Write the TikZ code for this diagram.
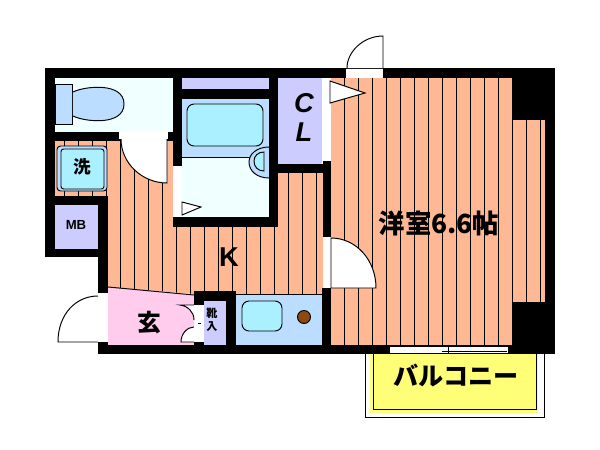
\documentclass[tikz,border=0pt]{standalone}
\usepackage{fontspec}
\newfontfamily\cjk{Noto Sans CJK JP}
\setsansfont{Liberation Sans}
\definecolor{piso}{HTML}{FFB894}
\definecolor{rosa}{HTML}{FFCCEE}
\definecolor{lila}{HTML}{CCCCFF}
\definecolor{celeste}{HTML}{BBDDFF}
\definecolor{agua}{HTML}{AAF0FF}
\definecolor{blanco}{HTML}{F0FFFF}
\definecolor{amarillo}{HTML}{FFFF77}
\definecolor{cafe}{HTML}{8B4A10}
\tikzset{
	linea/.style={draw=black,line width=0.55pt},
	muro/.style={fill=black},
	hueco/.style={fill=white},
	hoja/.style={linea,fill=white},
	rotulo/.style={inner sep=0pt,text=black,font=\cjk\bfseries\fontsize{15}{16}\selectfont},
	latino/.style={inner sep=0pt,text=black,font=\sffamily\bfseries\fontsize{15.5}{16}\selectfont}
}
\begin{document}
\begin{tikzpicture}[x=0.02cm,y=-0.02cm]
\useasboundingbox (0,0) rectangle (600,450);

% Balcon
	\draw[linea] (365,345) rectangle (544,417);
	\fill[amarillo] (370,350) rectangle (538,413);
	\draw[linea] (373,345) rectangle (536,409);

% Pisos
	\fill[piso] (330,78) -- (513,78) -- (513,120) -- (545,120) -- (545,302) -- (513,302) -- (513,345) -- (330,345) -- cycle;
	\fill[piso] (55,141) -- (173,141) -- (173,227) -- (278,227) -- (278,173) -- (323,173) -- (323,294) -- (194,294) -- (108,287) -- (108,196) -- (55,196) -- cycle;

	\begin{scope}
		\clip (330,78) -- (513,78) -- (513,120) -- (545,120) -- (545,302) -- (513,302) -- (513,345) -- (330,345) -- cycle
			(55,141) -- (173,141) -- (173,227) -- (278,227) -- (278,173) -- (323,173) -- (323,294) -- (194,294) -- (108,287) -- (108,196) -- (55,196) -- cycle;
		\foreach \x in {64.7, 78.7, ..., 541}
			\draw[linea] (\x,78) -- (\x,345);
	\end{scope}

% Cuartos
	\fill[blanco] (55,78) rectangle (173,132);
	\fill[lila] (182,78) rectangle (269,89);
	\fill[celeste] (182,99) rectangle (269,157);
	\fill[blanco] (182,157) rectangle (269,217);
	\fill[lila] (278,78) rectangle (322,164);
	\fill[lila] (55,205) rectangle (98,249);
	\fill[rosa] (108,287) -- (194,295) -- (194,345) -- (108,345) -- cycle;
	\fill[lila] (204,301) rectangle (226,345);
	\fill[celeste] (236,294) rectangle (322,345);
	\draw[linea] (108,287) -- (194,295);
	\draw[linea] (236,294) -- (322,294);
	\draw[linea] (182,157) -- (269,157);

% Sanitario
	\draw[linea,fill=celeste] (55,84) rectangle (72,124);
	\draw[linea,fill=celeste] (73,92) .. controls (85,86) and (124,82) .. (124,104) .. controls (124,126) and (85,122) .. (73,116);

% Bano
	\draw[linea,fill=agua,rounded corners=4pt] (187,104) rectangle (263,146);
	\draw[linea,fill=celeste] (269,147) .. controls (257,147) and (249,154) .. (249,162) .. controls (249,171) and (257,178) .. (269,178);
	\draw[linea,fill=agua] (264,152) .. controls (258,152) and (254,156) .. (254,161) .. controls (254,167) and (258,171) .. (264,171) -- cycle;

% Lavadora
	\draw[linea,fill=celeste,rounded corners=2pt] (57,146) rectangle (107,191);
	\draw[linea,fill=agua,rounded corners=1.5pt] (61,149) rectangle (104,189);

% Cocina
	\draw[linea,fill=agua,rounded corners=4pt] (242,301) rectangle (282,331);
	\draw[linea,fill=cafe] (304,317) circle [radius=6.5];

% Muros
	\fill[muro] (45,68) rectangle (555,78);
	\fill[muro] (45,68) rectangle (55,257);
	\fill[muro] (45,196) rectangle (108,205);
	\fill[muro] (98,196) rectangle (108,293);
	\fill[muro] (45,249) rectangle (108,257);
	\fill[muro] (98,342) rectangle (108,354);
	\fill[muro] (98,345) rectangle (555,354);
	\fill[muro] (55,132) rectangle (182,141);
	\fill[muro] (173,78) rectangle (182,166);
	\fill[muro] (182,89) rectangle (278,99);
	\fill[muro] (173,217) rectangle (278,227);
	\fill[muro] (269,78) rectangle (278,227);
	\fill[muro] (278,164) rectangle (331,173);
	\fill[muro] (323,161) rectangle (331,237);
	\fill[muro] (322,288) rectangle (331,354);
	\fill[muro] (513,68) rectangle (555,120);
	\fill[muro] (545,68) rectangle (555,354);
	\fill[muro] (513,302) rectangle (555,354);
	\fill[muro] (194,291) rectangle (236,301);
	\fill[muro] (194,291) rectangle (204,305);
	\fill[muro] (226,291) rectangle (236,354);
	\fill[muro] (194,342) rectangle (204,354);

% Vanos
	\fill[hueco] (322,78) rectangle (331,161);
	\fill[hueco] (323,237) rectangle (331,288);
	\fill[hueco] (174,166) rectangle (182,217);
	\fill[hueco] (119,132) rectangle (168,139);
	\fill[hueco] (98,293) rectangle (108,342);
	\fill[hueco] (194,305) rectangle (204,342);
	\fill[hueco] (346,69) rectangle (383,78);
	\fill[hueco] (390,346) rectangle (508,353);
	\draw[linea] (390,346.5) -- (508,346.5);
	\draw[linea] (442,351.5) -- (507,351.5);
	\draw[linea] (448,346) -- (448,353);
	\draw[linea] (346,68.5) -- (383,68.5);

% Puertas
	\draw[hoja] (330,81) -- (365,93) -- (330,103) -- cycle;
	\draw[hoja] (182,202) -- (201,207) -- (182,215) -- cycle;
	\draw[hoja] (383,68) -- (383,36) .. controls (363,36) and (347,52) .. (347,68);
	\draw[hoja] (331,288) -- (331,238) .. controls (356,238) and (376,260) .. (376,288) -- cycle;
	\draw[hoja] (167,139) -- (167,183) .. controls (142,183) and (121,163) .. (121,139);
	\draw[hoja] (98,342) -- (58,342) .. controls (58,314) and (76,296) .. (98,296);
	\draw[hoja] (194,305) -- (180,305) .. controls (188,306) and (194,312) .. (194,320);
	\draw[hoja] (194,342) -- (181,342) .. controls (181,334) and (187,327) .. (194,327);
	\draw[linea] (198,323.5) -- (201,323.5);

% Rotulos
	\node[rotulo] (yoshitsu) at (439,223) {洋室6.6帖};
	\node[rotulo,font=\cjk\bfseries\fontsize{13.5}{14}\selectfont] (genkan) at (149,323) {玄};
	\node[rotulo,font=\cjk\bfseries\fontsize{10}{11}\selectfont] (sen) at (82,167) {洗};
	\node[rotulo,font=\cjk\bfseries\fontsize{6.3}{7}\selectfont] (kutsu) at (212,313) {靴};
	\node[rotulo,font=\cjk\bfseries\fontsize{6.3}{7}\selectfont] (iri) at (212,327) {入};
	\node[rotulo,font=\cjk\bfseries\fontsize{14.3}{15}\selectfont] (balcon) at (456,375) {バルコニー};
	\node[latino] (kitchen) at (229,257) {K};
	\node[latino,font=\sffamily\bfseries\itshape\fontsize{15.5}{16}\selectfont] (closetc) at (304,103) {C};
	\node[latino,font=\sffamily\bfseries\itshape\fontsize{15.5}{16}\selectfont] (closetl) at (304,132) {L};
	\node[latino,font=\sffamily\bfseries\fontsize{7.5}{8}\selectfont] (mb) at (76,225) {MB};
\end{tikzpicture}
\end{document}
